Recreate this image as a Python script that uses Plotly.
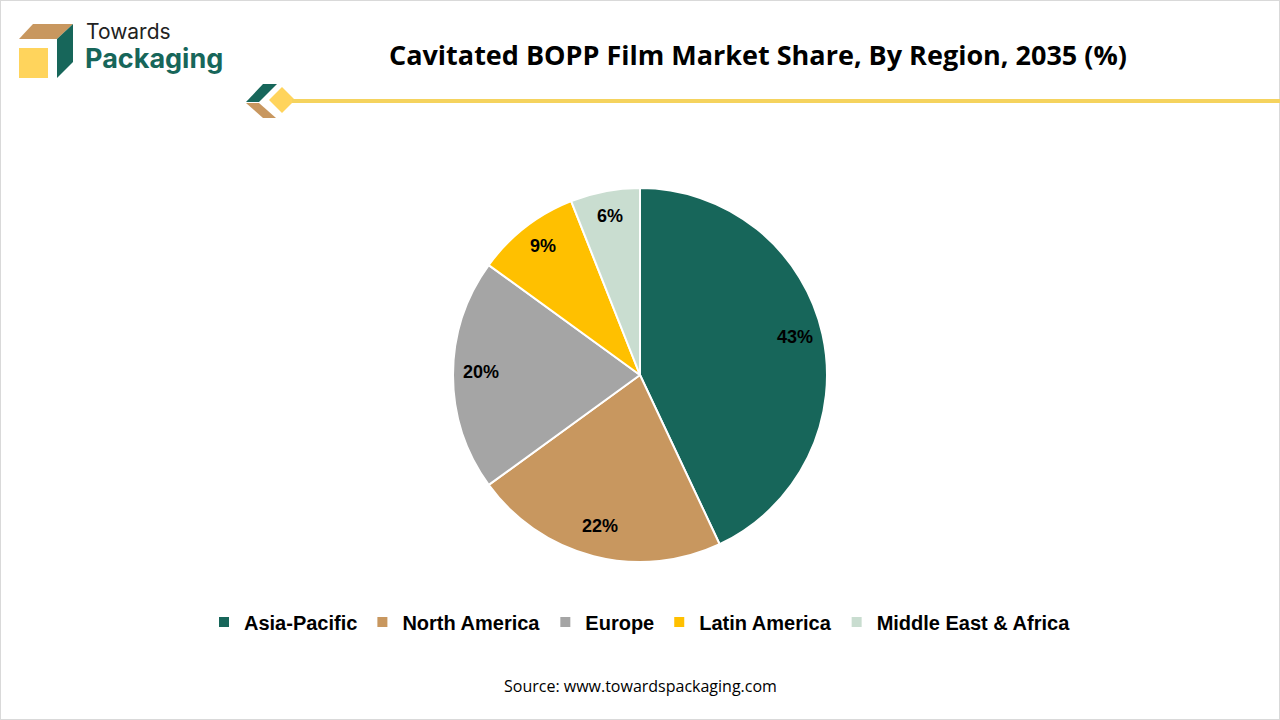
import math
import plotly.graph_objects as go

regions = ["Asia-Pacific", "North America", "Europe", "Latin America", "Middle East & Africa"]
shares = [43, 22, 20, 9, 6]
colors = ["#17665A", "#C8975F", "#A5A5A5", "#FFC000", "#C9DDD0"]

W, H = 1280, 720


def px(x):
    return x / W


def py(y):
    return 1 - y / H


def poly(points, color):
    ## closed path in paper coordinates from pixel points
    path = "M " + " L ".join(f"{px(x):.5f},{py(y):.5f}" for x, y in points) + " Z"
    return dict(type="path", xref="paper", yref="paper", path=path,
                fillcolor=color, line=dict(width=0), layer="above")


## pie box in pixels: centre and radius
cx, cy, R = 640, 375, 187

fig = go.Figure(go.Pie(
    labels=regions,
    values=shares,
    sort=False,
    direction="clockwise",
    rotation=0,
    marker=dict(colors=colors, line=dict(color="white", width=2)),
    textinfo="none",
    domain=dict(x=[px(cx - R), px(cx + R)], y=[py(cy + R), py(cy - R)]),
    hoverinfo="label+percent",
))

shapes = [
    ## outer frame
    dict(type="rect", xref="paper", yref="paper", x0=0, y0=0, x1=1, y1=1,
         line=dict(color="#D9D9D9", width=2)),
    ## logo cube
    poly([(19, 48), (48, 48), (48, 78), (19, 78)], "#FFD45C"),
    poly([(19, 39), (33, 24), (73, 24), (57, 39)], "#C8975F"),
    poly([(57, 39), (73, 24), (73, 62), (57, 78)], "#17665A"),
    ## header ornament
    poly([(246, 102), (263, 84), (277, 84), (259, 102)], "#17665A"),
    poly([(246, 103), (259, 103), (276, 118), (263, 118)], "#C8975F"),
    poly([(282, 87), (295, 100), (282, 113), (269, 100)], "#FFD45C"),
    dict(type="line", xref="paper", yref="paper", x0=px(292), x1=1,
         y0=py(101), y1=py(101), line=dict(color="#F5D35E", width=4)),
]

annotations = [
    dict(text="Towards", x=px(84), y=py(32), xref="paper", yref="paper",
         xanchor="left", yanchor="middle", showarrow=False,
         font=dict(family="Inter", size=21, color="#222222")),
    dict(text="<b>Packaging</b>", x=px(83), y=py(58), xref="paper", yref="paper",
         xanchor="left", yanchor="middle", showarrow=False,
         font=dict(family="Inter", size=27, color="#17665A")),
    dict(text="<b>Cavitated BOPP Film Market Share, By Region, 2035 (%)</b>",
         x=px(758), y=py(55), xref="paper", yref="paper",
         xanchor="center", yanchor="middle", showarrow=False,
         font=dict(family="Open Sans", size=27, color="black")),
    dict(text="Source: www.towardspackaging.com", x=0.5, y=py(686),
         xref="paper", yref="paper", xanchor="center", yanchor="middle",
         showarrow=False, font=dict(family="Open Sans", size=16, color="black")),
]

## slice labels near the outer edge, placed from the cumulative shares
total = sum(shares)
cum = 0
for v in shares:
    ang = math.radians((cum + v / 2) / total * 360)
    cum += v
    r = 0.85 * R
    annotations.append(dict(
        text=f"<b>{v}%</b>",
        x=px(cx + r * math.sin(ang)), y=py(cy - r * math.cos(ang) - 3),
        xref="paper", yref="paper", xanchor="center", yanchor="middle",
        showarrow=False,
        font=dict(family="Liberation Sans", size=18, color="black"),
    ))

fig.update_layout(
    width=W,
    height=H,
    margin=dict(l=0, r=0, t=0, b=0),
    paper_bgcolor="white",
    plot_bgcolor="white",
    shapes=shapes,
    annotations=annotations,
    showlegend=True,
    legend=dict(
        orientation="h",
        x=0.5, xanchor="center",
        y=py(622), yanchor="middle",
        font=dict(family="Liberation Sans", size=20, color="black", weight="bold"),
        itemclick=False,
    ),
)

fig.write_html("out.html", config={"displayModeBar": False},
               post_script="document.body.style.margin='0';")
